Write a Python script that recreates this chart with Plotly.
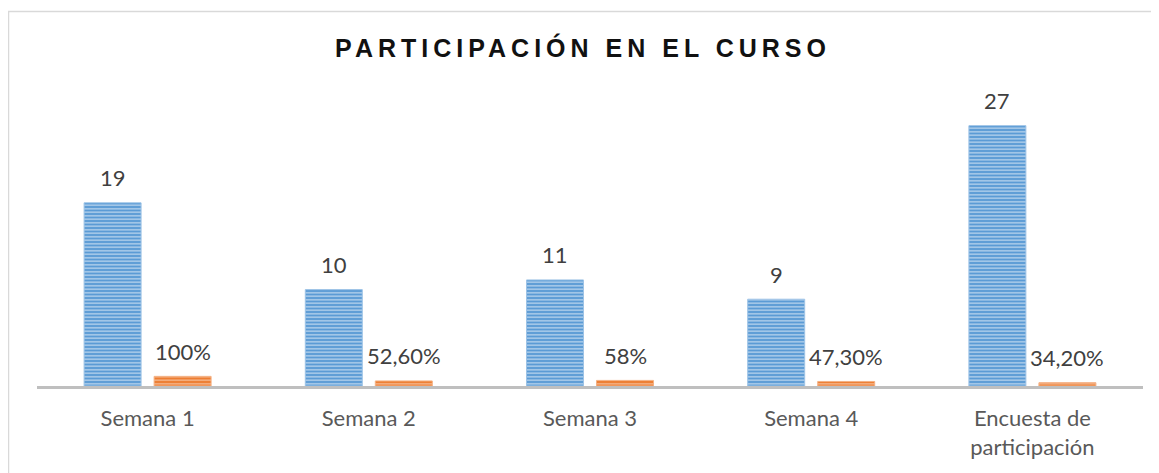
import plotly.graph_objects as go

categories = ["Semana 1", "Semana 2", "Semana 3", "Semana 4", "Encuesta de<br>participación"]
participantes = [19, 10, 11, 9, 27]
porcentaje = [1.0, 0.526, 0.58, 0.473, 0.342]
porcentaje_labels = ["100%", "52,60%", "58%", "47,30%", "34,20%"]
participantes_labels = [str(v) for v in participantes]

label_font = dict(family="Lato, Open Sans, sans-serif", size=22, color="#404040")

# The page body has an 8px margin, so the figure is 8px smaller than the window
W, H = 1151, 465
L, R_EDGE = 29, 1135
TOP, BASE = 108, 378

fig = go.Figure()
fig.add_trace(go.Bar(
    x=categories, y=participantes, name="Participantes",
    marker=dict(color="#5B9BD5",
                line=dict(color="#9DC3E6", width=1),
                pattern=dict(shape="-", bgcolor="#5B9BD5", fgcolor="#D2E3F4",
                             size=3.5, solidity=0.3, fillmode="replace")),
    hoverinfo="skip",
))
fig.add_trace(go.Bar(
    x=categories, y=porcentaje, name="Porcentaje",
    marker=dict(color="#ED7D31",
                line=dict(color="#F4B183", width=1),
                pattern=dict(shape="-", bgcolor="#ED7D31", fgcolor="#F8CBAD",
                             size=3.5, solidity=0.3, fillmode="replace")),
    hoverinfo="skip",
))

annotations = []
for c, v, t in zip(categories, participantes, participantes_labels):
    annotations.append(dict(x=c, y=v, text=t, showarrow=False, xshift=-35, yshift=25,
                            yanchor="middle", font=label_font))
for c, v, t in zip(categories, porcentaje, porcentaje_labels):
    annotations.append(dict(x=c, y=v, text=t, showarrow=False, xshift=35, yshift=25,
                            yanchor="middle", font=label_font))

plot_h = BASE - TOP
fig.update_layout(
    width=W, height=H,
    margin=dict(l=L, r=W - R_EDGE, t=TOP, b=H - BASE),
    paper_bgcolor="white", plot_bgcolor="white",
    barmode="group", bargap=0.367, bargroupgap=0.186,
    showlegend=False,
    title=dict(text='<b><span style="letter-spacing:5px">PARTICIPACIÓN EN EL CURSO</span></b>',
               x=575 / W, xanchor="center",
               y=1 - 40 / H, yanchor="middle", yref="container",
               font=dict(family="Liberation Sans, Arial, sans-serif", size=25, color="#111111")),
    xaxis=dict(showline=True, linecolor="#BFBFBF", linewidth=3, showgrid=False,
               ticks="outside", ticklen=11, tickcolor="rgba(0,0,0,0)",
               tickfont=dict(family="Lato, Open Sans, sans-serif", size=22, color="#595959")),
    yaxis=dict(visible=False, range=[0, 28], showgrid=False, zeroline=False),
    annotations=annotations,
    shapes=[dict(type="rect", xref="paper", yref="paper",
                 x0=(0.5 - L) / (R_EDGE - L), x1=1.2, y0=-0.6,
                 y1=(BASE - 3.5) / plot_h,
                 line=dict(color="#D9D9D9", width=1.5), fillcolor="rgba(0,0,0,0)", layer="below")],
)

fig.write_html("out.html")
